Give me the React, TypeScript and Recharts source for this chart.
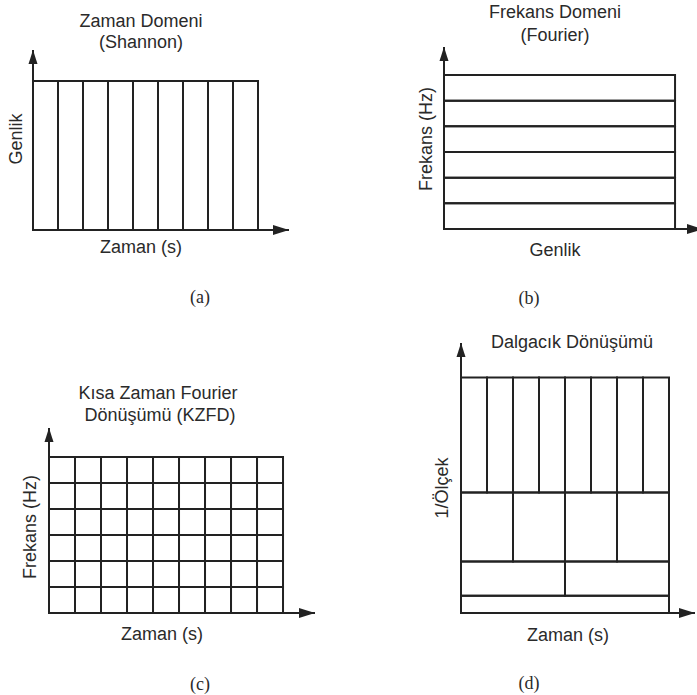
import React from 'react';
import { ComposedChart, XAxis, YAxis, ReferenceArea, ReferenceLine, Scatter } from 'recharts';

// (a) Zaman domeni: zaman dilimleri
const shannonTimeEdges = [0, 1, 2, 3, 4, 5, 6, 7, 8, 9];
const shannonAmpRange = [0, 1];

// (b) Frekans domeni: frekans bantlari
const fourierFreqEdges = [0, 1, 2, 3, 4, 5, 6];
const fourierAmpRange = [0, 1];

// (c) KZFD: sabit zaman-frekans izgarasi
const stftTimeEdges = [0, 1, 2, 3, 4, 5, 6, 7, 8, 9];
const stftFreqEdges = [0, 1, 2, 3, 4, 5, 6];

// (d) Dalgacik: her seviye icin olcek araligi ve zaman sinirlari
const waveletScaleRanges = [
  [0, 1],
  [1, 3],
  [3, 7],
  [7, 13.7],
];
const waveletTimeEdges = [
  [0, 8],
  [0, 4, 8],
  [0, 2, 4, 6, 8],
  [0, 1, 2, 3, 4, 5, 6, 7, 8],
];

const INK = '#222';
const SANS = 'Arial, "Liberation Sans", sans-serif';
const SERIF = '"Liberation Serif", "Times New Roman", serif';

type Tile = { x1: number; x2: number; y1: number; y2: number };

const spans = (edges: number[]) => edges.slice(1).map((e, i) => [edges[i], e]);

const shannonTiles: Tile[] = spans(shannonTimeEdges).map(([x1, x2]) => ({
  x1, x2, y1: shannonAmpRange[0], y2: shannonAmpRange[1],
}));
const fourierTiles: Tile[] = spans(fourierFreqEdges).map(([y1, y2]) => ({
  x1: fourierAmpRange[0], x2: fourierAmpRange[1], y1, y2,
}));
const stftTiles: Tile[] = spans(stftFreqEdges).flatMap(([y1, y2]) =>
  spans(stftTimeEdges).map(([x1, x2]) => ({ x1, x2, y1, y2 }))
);
const waveletTiles: Tile[] = waveletScaleRanges.flatMap(([y1, y2], lvl) =>
  spans(waveletTimeEdges[lvl]).map(([x1, x2]) => ({ x1, x2, y1, y2 }))
);

// filled arrow heads at the axis ends
const Arrow = (p: any) => {
  const { cx, cy, payload } = p;
  if (payload.dir === 'up') {
    return <polygon points={`${cx},${cy} ${cx - 4.5},${cy + 14} ${cx + 4.5},${cy + 14}`} fill={INK} />;
  }
  return <polygon points={`${cx},${cy} ${cx - 16},${cy - 5} ${cx - 16},${cy + 5}`} fill={INK} />;
};

type PanelProps = {
  x0: number; // origin x on page
  y0: number; // origin y on page
  tipX: number;
  tipY: number;
  xMax: number;
  yMax: number;
  tiles: Tile[];
};

function Panel({ x0, y0, tipX, tipY, xMax, yMax, tiles }: PanelProps) {
  const pad = 10;
  const arrows = [
    { x: xMax, y: 0, dir: 'right' },
    { x: 0, y: yMax, dir: 'up' },
  ];
  return (
    <div style={{ position: 'absolute', left: x0 - pad, top: tipY - pad }}>
      <ComposedChart
        width={tipX - x0 + 2 * pad}
        height={y0 - tipY + 2 * pad}
        margin={{ top: pad, right: pad, bottom: pad, left: pad }}
        data={arrows}
      >
        <XAxis type="number" dataKey="x" domain={[0, xMax]} hide />
        <YAxis type="number" dataKey="y" domain={[0, yMax]} hide />
        {tiles.map((t, i) => (
          <ReferenceArea key={i} x1={t.x1} x2={t.x2} y1={t.y1} y2={t.y2}
            fill="none" fillOpacity={0} stroke={INK} strokeWidth={2} strokeOpacity={1} />
        ))}
        <ReferenceLine segment={[{ x: 0, y: 0 }, { x: xMax, y: 0 }]} stroke={INK} strokeWidth={2} ifOverflow="visible" />
        <ReferenceLine segment={[{ x: 0, y: 0 }, { x: 0, y: yMax }]} stroke={INK} strokeWidth={2} ifOverflow="visible" />
        <Scatter dataKey="y" data={arrows} shape={Arrow} isAnimationActive={false} />
      </ComposedChart>
    </div>
  );
}

function Txt({ x, y, text, rotate, serif }: { x: number; y: number; text: string; rotate?: boolean; serif?: boolean }) {
  return (
    <div
      style={{
        position: 'absolute', left: x, top: y,
        transform: `translate(-50%, -50%)${rotate ? ' rotate(-90deg)' : ''}`,
        whiteSpace: 'nowrap', fontFamily: serif ? SERIF : SANS,
        fontSize: 18, lineHeight: '18px', color: '#2a2a2a',
      }}
    >
      {text}
    </div>
  );
}

export default function App() {
  return (
    <div style={{ position: 'absolute', left: 0, top: 0, width: 697, height: 695, overflow: 'hidden', background: '#fff' }}>
      <Panel x0={33} y0={230} tipX={289} tipY={50} xMax={10.24} yMax={1.208} tiles={shannonTiles} />
      <Panel x0={444} y0={229} tipX={703} tipY={47} xMax={1.121} yMax={7.09} tiles={fourierTiles} />
      <Panel x0={49} y0={613} tipX={315} tipY={428} xMax={10.23} yMax={7.12} tiles={stftTiles} />
      <Panel x0={461} y0={613} tipX={695} tipY={343} xMax={9.0} yMax={15.7} tiles={waveletTiles} />

      <Txt x={141} y={21} text="Zaman Domeni" />
      <Txt x={141} y={42} text="(Shannon)" />
      <Txt x={16} y={139} text="Genlik" rotate />
      <Txt x={141} y={247} text="Zaman (s)" />
      <Txt x={200} y={297} text="(a)" serif />

      <Txt x={555} y={12} text="Frekans Domeni" />
      <Txt x={555} y={35} text="(Fourier)" />
      <Txt x={426} y={139} text="Frekans (Hz)" rotate />
      <Txt x={555} y={250} text="Genlik" />
      <Txt x={529} y={298} text="(b)" serif />

      <Txt x={158} y={393} text="Kısa Zaman Fourier" />
      <Txt x={160} y={415} text="Dönüşümü (KZFD)" />
      <Txt x={30} y={527} text="Frekans (Hz)" rotate />
      <Txt x={162} y={634} text="Zaman (s)" />
      <Txt x={200} y={684} text="(c)" serif />

      <Txt x={572} y={342} text="Dalgacık Dönüşümü" />
      <Txt x={442} y={488} text="1/Ölçek" rotate />
      <Txt x={568} y={635} text="Zaman (s)" />
      <Txt x={529} y={683} text="(d)" serif />
    </div>
  );
}
